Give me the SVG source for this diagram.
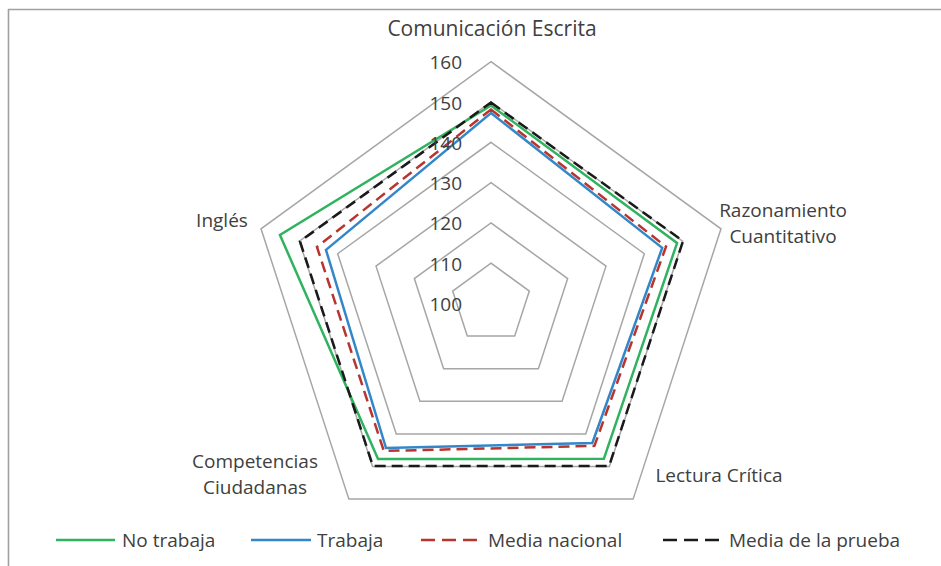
<svg xmlns="http://www.w3.org/2000/svg" width="941" height="566" viewBox="0 0 941 566">
  <style>
    .frame { stroke: #a0a0a0; stroke-width: 1.6; fill: none; }
    .grid { stroke: #a6a6a6; stroke-width: 1.5; fill: none; }
    .s { fill: none; stroke-width: 2.5; stroke-linejoin: miter; }
    .green { stroke: #2fb35e; }
    .blue { stroke: #3387c9; }
    .red { stroke: #b8352f; stroke-dasharray: 11 6; }
    .black { stroke: #1a1a1a; stroke-dasharray: 11 6; }
    text { font-family: "Open Sans", "Liberation Sans", sans-serif; fill: #404040; font-size: 19px; }
    .tick { text-anchor: end; }
    .mid { text-anchor: middle; }
  </style>
  <rect width="941" height="566" fill="#ffffff"/>
  <g id="frame">
    <line class="frame" x1="8" y1="9.5" x2="941" y2="9.5"/>
    <line class="frame" x1="8.5" y1="9" x2="8.5" y2="566"/>
  </g>
  <g id="grid">
    <polygon class="grid" points="491,263.2 529.33,291.05 514.69,336.1 467.31,336.1 452.67,291.05"/>
    <polygon class="grid" points="491,222.9 567.66,278.59 538.38,368.71 443.62,368.71 414.34,278.59"/>
    <polygon class="grid" points="491,182.6 605.99,266.14 562.07,401.31 419.93,401.31 376.01,266.14"/>
    <polygon class="grid" points="491,142.3 644.32,253.69 585.75,433.91 396.25,433.91 337.68,253.69"/>
    <polygon class="grid" points="491,102 682.65,241.24 609.44,466.51 372.56,466.51 299.35,241.24"/>
    <polygon class="grid" points="491,61.7 720.98,228.78 633.13,499.12 348.87,499.12 261.02,228.78"/>
  </g>
  <g id="connectors">
    <polygon id="s-no-trabaja" class="s green" points="491,105.5 677.04,243.06 603.86,458.83 378.03,458.99 279.95,234.93"/>
    <polygon id="s-trabaja" class="s blue" points="491,113 662.2,247.88 592.34,442.97 386.02,447.99 325.98,249.89"/>
    <polygon id="s-media-nacional" class="s red" points="491,109.5 666,246.64 594.45,445.88 383.84,450.98 316.95,246.95"/>
    <polygon id="s-media-prueba" class="s black" points="491,102.5 683.03,241.11 609.09,466.03 372.91,466.03 300.02,241.45"/>
  </g>
  <g id="ticks">
    <text class="tick" x="462" y="69.2">160</text>
    <text class="tick" x="462" y="109.5">150</text>
    <text class="tick" x="462" y="149.8">140</text>
    <text class="tick" x="462" y="190.1">130</text>
    <text class="tick" x="462" y="230.4">120</text>
    <text class="tick" x="462" y="270.7">110</text>
    <text class="tick" x="462" y="311">100</text>
  </g>
  <g id="axis-comunicacion">
    <text class="mid" x="492" y="36" style="font-size:21px">Comunicación Escrita</text>
  </g>
  <g id="axis-razonamiento">
    <text class="mid" x="783" y="217">Razonamiento</text>
    <text class="mid" x="783" y="243">Cuantitativo</text>
  </g>
  <g id="axis-lectura">
    <text class="mid" x="719" y="482">Lectura Crítica</text>
  </g>
  <g id="axis-competencias">
    <text class="mid" x="255" y="468">Competencias</text>
    <text class="mid" x="255" y="494">Ciudadanas</text>
  </g>
  <g id="axis-ingles">
    <text class="mid" x="222" y="227">Inglés</text>
  </g>
  <g id="legend">
    <line class="s green" x1="56" y1="540" x2="115" y2="540"/>
    <text x="122" y="547">No trabaja</text>
    <line class="s blue" x1="251" y1="540" x2="311" y2="540"/>
    <text x="317" y="547">Trabaja</text>
    <line class="s red" x1="421" y1="540" x2="479" y2="540" style="stroke-dasharray:14 7"/>
    <text x="488" y="547">Media nacional</text>
    <line class="s black" x1="663" y1="540" x2="720" y2="540" style="stroke-dasharray:14 7"/>
    <text x="729" y="547">Media de la prueba</text>
  </g>
</svg>
